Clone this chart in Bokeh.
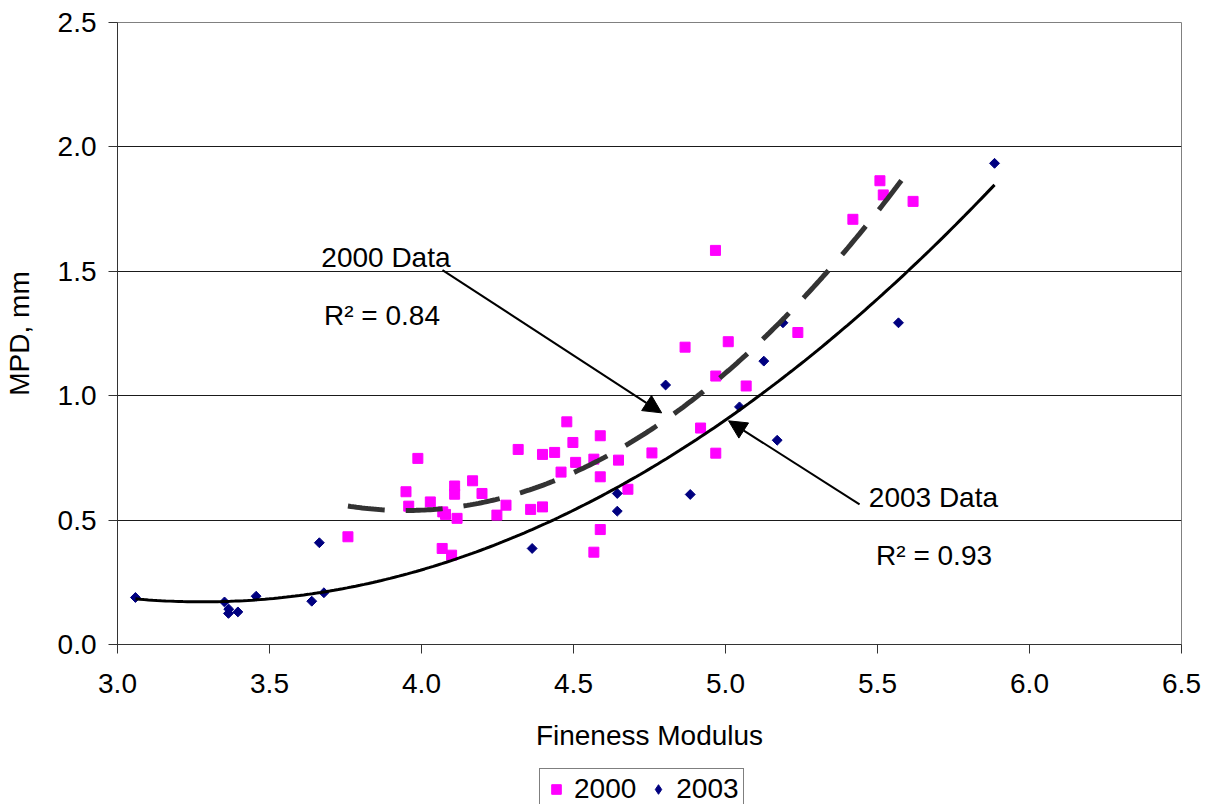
import numpy as np
from bokeh.plotting import figure
from bokeh.layouts import column
from bokeh.models import (Range1d, FixedTicker, NumeralTickFormatter, Legend, LegendItem,
                          Label, Arrow, NormalHead)
from bokeh.embed import file_html
from bokeh.resources import INLINE

# ---- data ----
fm_2000 = [3.758, 3.949, 3.958, 3.988, 4.029, 4.068, 4.070, 4.079, 4.099, 4.109, 4.109, 4.117,
           4.168, 4.199, 4.248, 4.278, 4.318, 4.359, 4.398, 4.398, 4.438, 4.459, 4.478, 4.498,
           4.507, 4.567, 4.567, 4.588, 4.588, 4.588, 4.648, 4.679, 4.758, 4.867, 4.918, 4.967,
           4.968, 4.968, 5.009, 5.068, 5.238, 5.419, 5.508, 5.519, 5.617]
mpd_2000 = [0.433, 0.614, 0.556, 0.748, 0.573, 0.386, 0.533, 0.523, 0.359, 0.637, 0.604, 0.507,
            0.658, 0.607, 0.520, 0.560, 0.784, 0.543, 0.553, 0.764, 0.772, 0.693, 0.895, 0.812,
            0.732, 0.745, 0.371, 0.839, 0.674, 0.462, 0.741, 0.624, 0.770, 1.195, 0.870, 1.584,
            1.079, 0.769, 1.217, 1.039, 1.254, 1.709, 1.864, 1.807, 1.781]
fm_2003 = [3.059, 3.352, 3.365, 3.366, 3.396, 3.456, 3.639, 3.664, 3.679, 4.364, 4.644, 4.644,
           4.803, 4.884, 5.046, 5.126, 5.170, 5.189, 5.569, 5.885]
mpd_2003 = [0.189, 0.171, 0.125, 0.142, 0.131, 0.194, 0.174, 0.409, 0.208, 0.386, 0.607, 0.536,
            1.043, 0.603, 0.955, 1.139, 0.821, 1.293, 1.293, 1.934]
x_ticks = [3.0, 3.5, 4.0, 4.5, 5.0, 5.5, 6.0, 6.5]
y_ticks = [0.0, 0.5, 1.0, 1.5, 2.0, 2.5]
series_names = ["2000", "2003"]

FONT = "Liberation Sans"
FS = "28px"
MAGENTA = "#FF00FF"
NAVY = "#000080"

p = figure(output_backend="svg", toolbar_location=None,
           x_range=Range1d(3.0, 6.5), y_range=Range1d(0.0, 2.5),
           min_border_left=105, min_border_right=31, min_border_top=22, min_border_bottom=122,
           frame_width=1064, frame_height=622)
p.background_fill_color = "white"
p.border_fill_color = "white"
p.outline_line_color = "#808080"
p.outline_line_width = 1

for ax in (p.xaxis[0], p.yaxis[0]):
    ax.axis_line_color = "#333333"
    ax.major_tick_line_color = "#333333"
    ax.major_tick_out = 9
    ax.major_tick_in = 0
    ax.minor_tick_out = 0
    ax.minor_tick_in = 0
    ax.major_label_text_font = FONT
    ax.major_label_text_font_size = FS
    ax.major_label_text_color = "black"
    ax.axis_label_text_font = FONT
    ax.axis_label_text_font_size = FS
    ax.axis_label_text_font_style = "normal"
    ax.axis_label_text_color = "black"
    ax.formatter = NumeralTickFormatter(format="0.0")

p.xaxis.ticker = FixedTicker(ticks=x_ticks)
p.yaxis.ticker = FixedTicker(ticks=y_ticks)
p.xaxis.axis_label = "Fineness Modulus"
p.yaxis.axis_label = "MPD, mm"
p.xaxis.major_label_standoff = 20
p.xaxis.axis_label_standoff = 24
p.yaxis.major_label_standoff = 12
p.yaxis.axis_label_standoff = 20

p.xgrid.grid_line_color = None
p.ygrid.grid_line_color = "#1a1a1a"
p.ygrid.grid_line_width = 1

# scatter
p.scatter(fm_2000, mpd_2000, marker="square", size=10, fill_color=MAGENTA, line_color=MAGENTA)
p.scatter(fm_2003, mpd_2003, marker="square", size=7, angle=np.pi / 4,
          fill_color=NAVY, line_color=NAVY)

# polynomial (order 2) trendlines computed from the data
c00 = np.polyfit(fm_2000, mpd_2000, 2)
xs00 = np.linspace(min(fm_2000), max(fm_2000), 200)
p.line(xs00, np.polyval(c00, xs00), line_color="#333333", line_width=5, line_dash="37 21")

c03 = np.polyfit(fm_2003, mpd_2003, 2)
xs03 = np.linspace(min(fm_2003), max(fm_2003), 200)
p.line(xs03, np.polyval(c03, xs03), line_color="black", line_width=3)

# annotations
def lab(x, y, t):
    p.add_layout(Label(x=x, y=y, text=t, text_font=FONT, text_font_size=FS,
                       text_align="center", text_baseline="alphabetic", text_color="black"))

lab(3.883, 1.557, "2000 Data")
lab(3.870, 1.324, "R\u00b2 = 0.84")
lab(5.684, 0.592, "2003 Data")
lab(5.686, 0.359, "R\u00b2 = 0.93")

p.add_layout(Arrow(end=NormalHead(size=18, fill_color="black", line_color="black"),
                   x_start=4.069, y_start=1.505, x_end=4.790, y_end=0.931,
                   line_width=2, line_color="black"))
p.add_layout(Arrow(end=NormalHead(size=18, fill_color="black", line_color="black"),
                   x_start=5.441, y_start=0.563, x_end=5.010, y_end=0.899,
                   line_width=2, line_color="black"))

# ---- legend strip (separate small figure so the legend sits below the axis title) ----
q = figure(width=1200, height=38, output_backend="svg", toolbar_location=None,
           x_axis_type=None, y_axis_type=None,
           x_range=Range1d(100, 101), y_range=Range1d(100, 101),
           min_border_left=0, min_border_right=0, min_border_top=0, min_border_bottom=0)
q.outline_line_color = None
q.xgrid.grid_line_color = None
q.ygrid.grid_line_color = None
q.background_fill_color = "white"
q.border_fill_color = "white"
# same series drawn here outside the visible range; they only provide the legend icons
l2000 = q.scatter(fm_2000, mpd_2000, marker="square", size=10, fill_color=MAGENTA, line_color=MAGENTA)
l2003 = q.scatter(fm_2003, mpd_2003, marker="diamond", size=10, fill_color=NAVY, line_color=NAVY)

legend = Legend(items=[LegendItem(label=series_names[0], renderers=[l2000]),
                       LegendItem(label=series_names[1], renderers=[l2003])],
                orientation="horizontal", location=(422, -6))
legend.label_text_font = FONT
legend.label_text_font_size = FS
legend.label_text_color = "black"
legend.label_height = 28
legend.glyph_width = 24
legend.glyph_height = 24
legend.label_standoff = 6
legend.spacing = 10
legend.padding = 4
legend.margin = 0
legend.border_line_color = "black"
legend.border_line_width = 1
legend.background_fill_color = "white"
q.add_layout(legend, "center")

open("out.html", "w").write(file_html(column(p, q, spacing=0), INLINE))
